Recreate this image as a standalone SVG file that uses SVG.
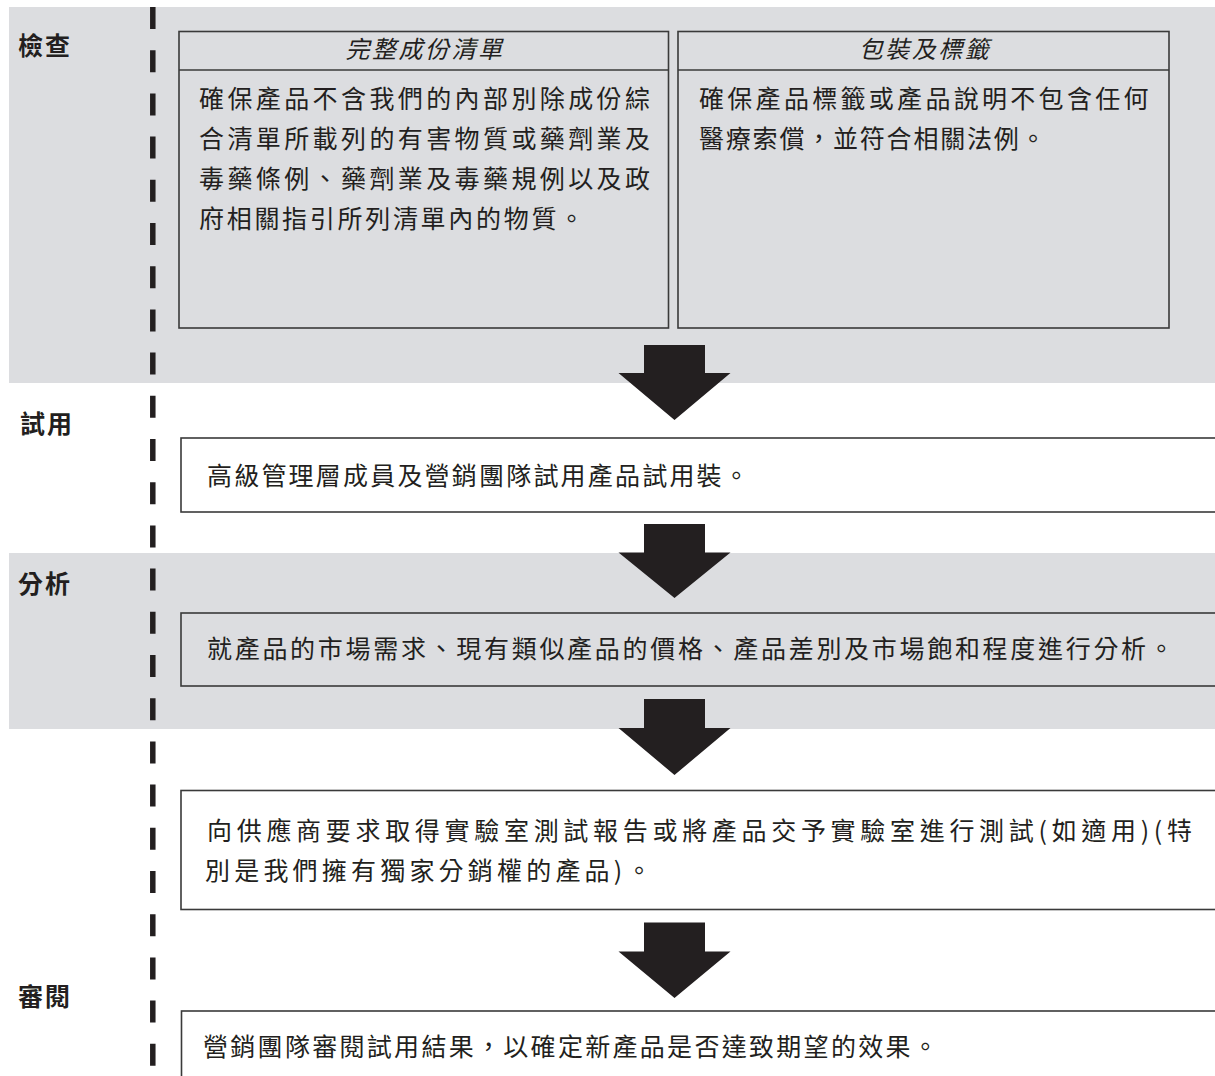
<svg xmlns="http://www.w3.org/2000/svg" width="1215" height="1076" viewBox="0 0 1215 1076">
<style>
.band{fill:#dcdde0}
.box{fill:none;stroke:#3a3a3a;stroke-width:1.6}
.wbox{fill:#ffffff;stroke:#3a3a3a;stroke-width:1.6}
.lbl{font-family:"Noto Sans CJK TC","Noto Sans CJK SC",sans-serif;font-size:25px;font-weight:bold;fill:#231f20;letter-spacing:2px}
.txt{font-family:"Noto Sans CJK TC","Noto Sans CJK SC",sans-serif;font-size:25px;fill:#231f20}
.hdr{font-family:"Noto Sans CJK TC","Noto Sans CJK SC",sans-serif;font-size:24px;font-style:italic;fill:#231f20;letter-spacing:2.5px;text-anchor:middle}
.arrow{fill:#231f20}
.dash{stroke:#231f20;stroke-width:5.5;stroke-dasharray:22 21.2;fill:none}
</style>
<rect width="1215" height="1076" fill="#ffffff"/>
<g id="bands">
<rect class="band" x="9" y="7" width="1206" height="376"/>
<rect class="band" x="9" y="553" width="1206" height="176"/>
</g>
<line class="dash" x1="152.8" y1="7" x2="152.8" y2="1066"/>
<g id="labels">
<text class="lbl" x="18" y="55">檢查</text>
<text class="lbl" x="20" y="433">試用</text>
<text class="lbl" x="18" y="593">分析</text>
<text class="lbl" x="18" y="1006">審閱</text>
</g>
<g id="node-ingredients">
<rect class="box" x="179" y="31.5" width="489.5" height="296.5"/>
<line class="box" x1="179" y1="70" x2="668.5" y2="70"/>
<text class="hdr" x="425" y="58">完整成份清單</text>
<text class="txt" x="199" y="108" style="letter-spacing:3.4px">確保產品不含我們的內部別除成份綜</text>
<text class="txt" x="199" y="148" style="letter-spacing:3.4px">合清單所載列的有害物質或藥劑業及</text>
<text class="txt" x="199" y="188" style="letter-spacing:3.4px">毒藥條例、藥劑業及毒藥規例以及政</text>
<text class="txt" x="199" y="228" style="letter-spacing:2.7px">府相關指引所列清單內的物質。</text>
</g>
<g id="node-packaging">
<rect class="box" x="678" y="31.5" width="491" height="296.5"/>
<line class="box" x1="678" y1="70" x2="1169" y2="70"/>
<text class="hdr" x="925" y="58">包裝及標籤</text>
<text class="txt" x="699" y="108" style="letter-spacing:3.3px">確保產品標籤或產品說明不包含任何</text>
<text class="txt" x="699" y="148" style="letter-spacing:1.8px">醫療索償，並符合相關法例。</text>
</g>
<g id="node-trial">
<rect class="wbox" x="181" y="438" width="1100" height="74"/>
<text class="txt" x="207" y="485" style="letter-spacing:2.2px">高級管理層成員及營銷團隊試用產品試用裝。</text>
</g>
<g id="node-analysis">
<rect class="box" x="181" y="613" width="1100" height="73"/>
<text class="txt" x="207" y="658" style="letter-spacing:2.7px">就產品的市場需求、現有類似產品的價格、產品差別及市場飽和程度進行分析。</text>
</g>
<g id="node-testing">
<rect class="wbox" x="181" y="790.5" width="1100" height="119"/>
<text class="txt" x="207" y="840" textLength="985" lengthAdjust="spacing">向供應商要求取得實驗室測試報告或將產品交予實驗室進行測試(如適用)(特</text>
<text class="txt" x="205" y="880" style="letter-spacing:4.2px">別是我們擁有獨家分銷權的產品)。</text>
</g>
<g id="node-review">
<rect class="wbox" x="181.5" y="1011" width="1100" height="100"/>
<text class="txt" x="203" y="1056" style="letter-spacing:2.3px">營銷團隊審閱試用結果，以確定新產品是否達致期望的效果。</text>
</g>
<g id="connectors">
<path class="arrow" d="M644,345 H705 V373 H730.5 L674.5,420 L618.5,373 H644 Z"/>
<path class="arrow" d="M644,524 H705 V552.5 H730.5 L674.5,598 L618.5,552.5 H644 Z"/>
<path class="arrow" d="M644,699 H705 V728 H730.5 L674.5,775 L618.5,728 H644 Z"/>
<path class="arrow" d="M644,922.5 H705 V951.5 H730.5 L674.5,998 L618.5,951.5 H644 Z"/>
</g>
</svg>
